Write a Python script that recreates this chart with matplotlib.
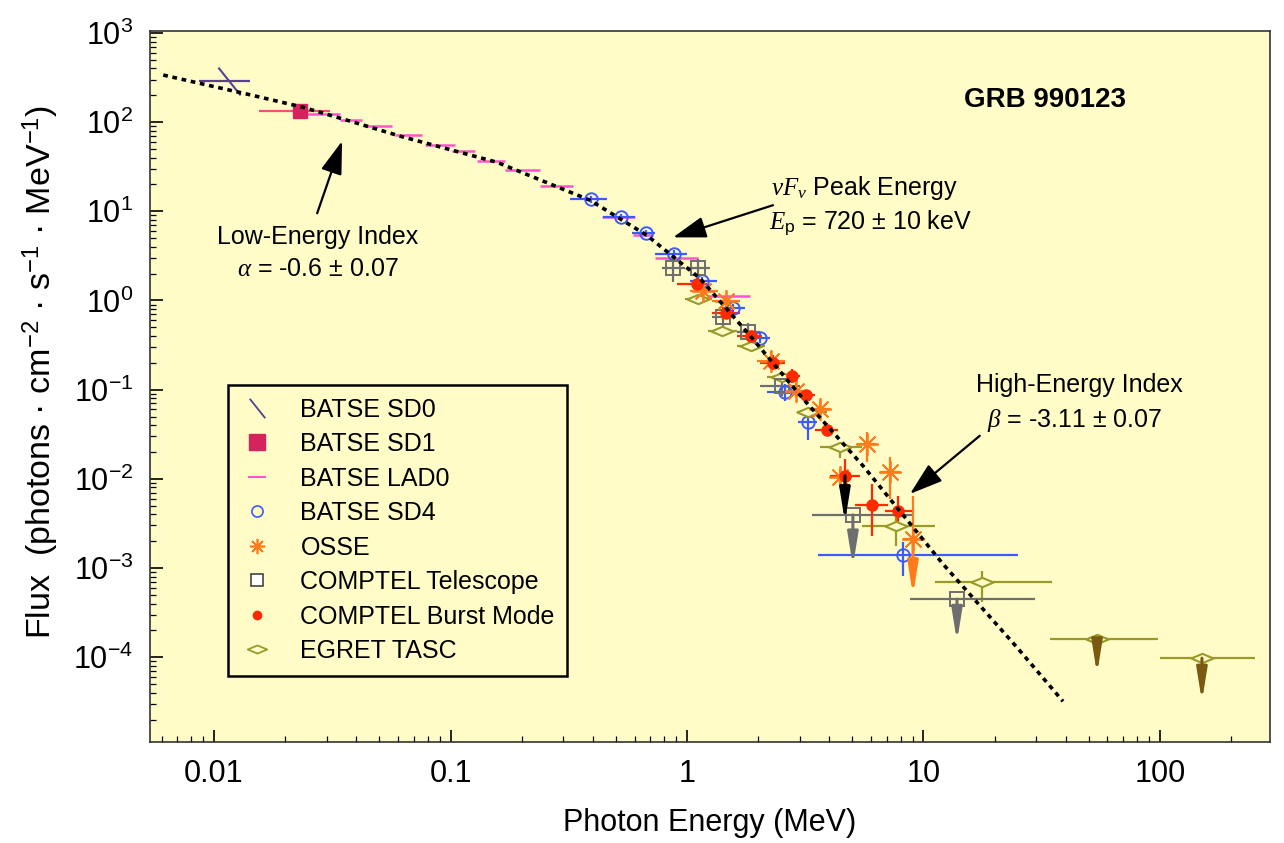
import numpy as np
import matplotlib.pyplot as plt
from matplotlib.lines import Line2D
from matplotlib.path import Path
from matplotlib.ticker import NullFormatter
from matplotlib import font_manager

# --- Fonts ---
names = {f.name for f in font_manager.fontManager.ttflist}
narrow = 'Liberation Sans Narrow' if 'Liberation Sans Narrow' in names else 'Liberation Sans'
plt.rcParams['font.family'] = ['Liberation Sans', 'DejaVu Sans']
plt.rcParams['mathtext.fontset'] = 'custom'
plt.rcParams['mathtext.rm'] = 'Liberation Sans'
plt.rcParams['mathtext.it'] = 'Liberation Serif:italic'
plt.rcParams['mathtext.bf'] = 'Liberation Sans:bold'

# --- Data: energy in MeV, flux in photons cm^-2 s^-1 MeV^-1 ---
# Band model fit (dashed curve)
model_e = [0.0061, 0.0138, 0.0236, 0.0376, 0.0612, 0.157, 0.389, 0.677,
           1.135, 1.846, 3.094, 5.55, 12.09, 24.85, 38.9]
model_f = [337, 206, 147.5, 102.6, 69.6, 35.5, 13.3, 5.37,
           1.77, 0.404, 0.0792, 0.0140, 0.00111, 1.29e-4, 3.2e-5]

# BATSE SD0 (one point + slope segment)
sd0_e, sd0_lo, sd0_hi, sd0_f = [0.0116], [0.0086], [0.0142], [290]

# BATSE SD1
sd1_e, sd1_lo, sd1_hi, sd1_f = [0.0231], [0.0155], [0.0309], [133]

# BATSE LAD0 (energy bins only)
lad_lo = [0.0247, 0.0341, 0.0435, 0.0583, 0.078, 0.1015, 0.1295, 0.170,
          0.239, 0.437, 0.591, 0.732, 1.215]
lad_hi = [0.0341, 0.0422, 0.0566, 0.0758, 0.1045, 0.1269, 0.170, 0.239,
          0.330, 0.603, 0.718, 1.113, 1.846]
lad_f = [123, 105, 90, 71, 55, 47, 36.5, 29, 19.1, 8.6, 5.4, 3.0, 1.11]

# BATSE SD4
sd4_e = [0.393, 0.526, 0.671, 0.881, 1.157, 1.565, 2.035, 2.597, 3.248, 8.19]
sd4_lo = [0.320, 0.441, 0.585, 0.732, 1.03, 1.406, 1.811, 2.18, 2.946, 3.58]
sd4_hi = [0.459, 0.603, 0.732, 1.0, 1.339, 1.759, 2.244, 2.918, 3.545, 25.1]
sd4_f = [13.6, 8.56, 5.66, 3.29, 1.635, 0.813, 0.384, 0.095, 0.0437, 0.0014]
sd4_flo = [12.5, 7.9, 5.2, 2.9, 1.45, 0.72, 0.33, 0.075, 0.027, 0.00081]
sd4_fhi = [14.8, 9.3, 6.1, 3.7, 1.85, 0.92, 0.44, 0.115, 0.056, 0.00196]

# OSSE
osse_e = [1.169, 1.462, 2.266, 2.89, 3.65, 4.44, 5.77, 7.22, 9.03]
osse_lo = [1.03, 1.276, 1.977, 2.622, 3.31, 4.024, 5.235, 6.55, 8.19]
osse_hi = [1.352, 1.675, 2.597, 3.186, 4.024, 4.89, 6.36, 7.96, 9.95]
osse_f = [1.262, 0.974, 0.2117, 0.0975, 0.0612, 0.01053, 0.0247, 0.0120, 0.00212]
osse_flo = [1.1, 0.85, 0.17, 0.08, 0.05, 0.0085, 0.0155, 0.006, 0.00212]
osse_fhi = [1.45, 1.12, 0.27, 0.12, 0.075, 0.013, 0.0337, 0.0177, 0.00644]
osse_ul = [False, False, False, False, False, False, False, False, True]
osse_ul_end = 5.0e-4

# COMPTEL Telescope
tel_e = [0.873, 1.113, 1.42, 1.811, 2.522, 5.03, 13.86]
tel_lo = [0.784, 1.01, 1.276, 1.627, 2.035, 3.378, 8.77]
tel_hi = [0.981, 1.251, 1.596, 2.035, 3.005, 8.94, 29.6]
tel_f = [2.288, 2.288, 0.661, 0.4485, 0.111, 0.00394, 4.48e-4]
tel_flo = [1.6, 1.7, 0.5, 0.35, 0.085, 0.00394, 4.48e-4]
tel_fhi = [3.0, 2.9, 0.85, 0.56, 0.14, 0.00394, 4.48e-4]
tel_ul = [False, False, False, False, False, True, True]
tel_ul_end = [None, None, None, None, None, 0.00105, 1.5e-4]

# COMPTEL Burst Mode
bm_e = [1.102, 1.462, 1.865, 2.310, 2.78, 3.186, 3.908, 4.656, 6.058, 7.80]
bm_lo = [0.907, 1.276, 1.627, 2.035, 2.546, 2.918, 3.477, 4.024, 5.133, 6.874]
bm_hi = [1.215, 1.675, 2.075, 2.597, 3.005, 3.477, 4.35, 5.39, 7.08, 8.94]
bm_f = [1.513, 0.733, 0.4045, 0.201, 0.1437, 0.0879, 0.0355, 0.0108, 0.0051, 0.00437]
bm_flo = [1.35, 0.65, 0.36, 0.165, 0.12, 0.075, 0.03, 0.0046, 0.00229, 0.00296]
bm_fhi = [1.7, 0.82, 0.45, 0.245, 0.17, 0.1, 0.042, 0.0168, 0.00879, 0.00644]
bm_ul_e, bm_ul_f, bm_ul_end = [4.656], [0.0108], [0.0033]

# EGRET TASC
eg_e = [1.113, 1.406, 1.865, 2.522, 3.248, 4.436, 7.65, 17.68, 54.2, 150.5]
eg_lo = [0.981, 1.227, 1.627, 2.18, 2.918, 3.65, 5.495, 11.19, 34.3, 100]
eg_hi = [1.276, 1.627, 2.137, 2.918, 3.908, 5.495, 11.19, 34.94, 98.1, 252]
eg_f = [1.026, 0.46, 0.312, 0.140, 0.0566, 0.0229, 0.00296, 6.96e-4, 1.59e-4, 9.75e-5]
eg_flo = [1.026, 0.46, 0.312, 0.140, 0.0566, 0.017, 0.00177, 4.15e-4, 1.59e-4, 9.75e-5]
eg_fhi = [1.026, 0.46, 0.312, 0.140, 0.0566, 0.0229, 0.00404, 9.25e-4, 1.59e-4, 9.75e-5]
eg_ul = [False] * 8 + [True, True]
eg_ul_end = [None] * 8 + [6.5e-5, 3.2e-5]

xticks = [0.01, 0.1, 1, 10, 100]
xticklabels = ['0.01', '0.1', '1', '10', '100']

# --- Colours ---
c_sd0 = '#5B3F8F'
c_sd1 = '#D6235F'
c_sd1_bar = '#F0507A'
c_lad = '#FF55CC'
c_sd4 = '#3A5BFF'
c_osse = '#FF7A1A'
c_tel = '#6E6E6E'
c_bm = '#FF2A00'
c_eg = '#9A9A2A'
c_eg_ul = '#7A5A10'
bg = '#FFFCC8'

slash = Path([(-0.8, 1.0), (0.8, -1.0)], [Path.MOVETO, Path.LINETO])
diamond = Path([(-1, 0), (0, 0.42), (1, 0), (0, -0.42), (-1, 0)],
               [Path.MOVETO, Path.LINETO, Path.LINETO, Path.LINETO, Path.CLOSEPOLY])
aster = (8, 2, 0)


def xerr(e, lo, hi):
    e = np.array(e)
    return [e - np.array(lo), np.array(hi) - e]


def yerr(f, flo, fhi):
    f = np.array(f)
    return [f - np.array(flo), np.array(fhi) - f]


def ul_arrow(ax, x, y0, y1, color):
    ax.annotate('', xy=(x, y1), xytext=(x, y0),
                arrowprops=dict(arrowstyle='-|>,head_length=1.6,head_width=0.26',
                                color=color, lw=2.2, shrinkA=0, shrinkB=0,
                                mutation_scale=12))


fig = plt.figure(figsize=(12.84, 8.43), dpi=100)
ax = fig.add_axes([0.1168, 0.1198, 0.8723, 0.8434])
ax.set_facecolor(bg)
ax.set_xscale('log')
ax.set_yscale('log')
ax.set_xlim(0.00536, 292)
ax.set_ylim(1.12e-5, 1.05e3)

eb = dict(ls='none', elinewidth=1.6, capsize=0)

# BATSE SD0
ax.errorbar(sd0_e, sd0_f, xerr=xerr(sd0_e, sd0_lo, sd0_hi), color=c_sd0,
            marker=slash, ms=20, mew=1.5, **eb)
# BATSE LAD0
ax.hlines(lad_f, lad_lo, lad_hi, color=c_lad, lw=1.8, zorder=2)
# BATSE SD1
ax.errorbar(sd1_e, sd1_f, xerr=xerr(sd1_e, sd1_lo, sd1_hi), ecolor=c_sd1_bar,
            marker='s', ms=10, mfc=c_sd1, mec=c_sd1, **eb)
# BATSE SD4
ax.errorbar(sd4_e, sd4_f, xerr=xerr(sd4_e, sd4_lo, sd4_hi),
            yerr=yerr(sd4_f, sd4_flo, sd4_fhi), color=c_sd4,
            marker='o', ms=9, mfc='none', mew=1.4, **eb)
# EGRET TASC
ax.errorbar(eg_e, eg_f, xerr=xerr(eg_e, eg_lo, eg_hi),
            yerr=yerr(eg_f, eg_flo, eg_fhi), color=c_eg,
            marker=diamond, ms=16, mfc=bg, mew=1.5, **eb)
for x, y, y1, ul in zip(eg_e, eg_f, eg_ul_end, eg_ul):
    if ul:
        ul_arrow(ax, x, y, y1, c_eg_ul)
# COMPTEL Telescope
ax.errorbar(tel_e, tel_f, xerr=xerr(tel_e, tel_lo, tel_hi),
            yerr=yerr(tel_f, tel_flo, tel_fhi), color=c_tel,
            marker='s', ms=10, mfc='none', mew=1.4, **eb)
for x, y, y1, ul in zip(tel_e, tel_f, tel_ul_end, tel_ul):
    if ul:
        ul_arrow(ax, x, y, y1, c_tel)
# OSSE
ax.errorbar(osse_e, osse_f, xerr=xerr(osse_e, osse_lo, osse_hi),
            yerr=yerr(osse_f, osse_flo, osse_fhi), color=c_osse,
            marker=aster, ms=16, mew=1.3, **eb)
for x, y, ul in zip(osse_e, osse_f, osse_ul):
    if ul:
        ul_arrow(ax, x, y, osse_ul_end, c_osse)
# COMPTEL Burst Mode
ax.errorbar(bm_e, bm_f, xerr=xerr(bm_e, bm_lo, bm_hi),
            yerr=yerr(bm_f, bm_flo, bm_fhi), color=c_bm,
            marker='o', ms=8, **eb)
for x, y, y1 in zip(bm_ul_e, bm_ul_f, bm_ul_end):
    ul_arrow(ax, x, y, y1, 'black')

# Band model fit
ax.plot(model_e, model_f, color='black', lw=2.6, ls=(0, (1.3, 1.3)), zorder=6)

# --- Axes styling ---
ax.set_xticks(xticks)
ax.set_xticklabels(xticklabels, family=narrow, fontsize=22)
ax.xaxis.set_minor_formatter(NullFormatter())
ax.yaxis.set_minor_formatter(NullFormatter())
ax.tick_params(axis='y', labelsize=22)
ax.tick_params(which='major', direction='in', length=9, width=1.2, pad=12)
ax.tick_params(which='minor', direction='in', length=4.5, width=0.9)
for s in ax.spines.values():
    s.set_linewidth(1.2)
    s.set_color('#333333')

ax.set_xlabel('Photon Energy (MeV)', family=narrow, fontsize=22, labelpad=14)
ax.set_ylabel('Flux  (photons · cm$^{-2}$ · s$^{-1}$ · MeV$^{-1}$)', fontsize=24.5)
ax.yaxis.set_label_coords(-0.079, 0.52)

# --- Annotations ---
ax.text(0.799, 0.903, 'GRB 990123', transform=ax.transAxes, fontsize=20,
        fontweight='bold', ha='center', va='center')
ax.text(0.150, 0.710, 'Low-Energy Index', transform=ax.transAxes,
        fontsize=18, ha='center', va='center')
ax.text(0.150, 0.665, r'$\alpha$ = -0.6 ± 0.07', transform=ax.transAxes,
        fontsize=18, ha='center', va='center')
ax.text(0.638, 0.779, r'$\nu F_\nu$ Peak Energy', transform=ax.transAxes,
        fontsize=18, ha='center', va='center')
ax.text(0.643, 0.729, r'$E_{\rm p}$ = 720 ± 10 keV', transform=ax.transAxes,
        fontsize=18, ha='center', va='center')
ax.text(0.830, 0.502, 'High-Energy Index', transform=ax.transAxes,
        fontsize=18, ha='center', va='center')
ax.text(0.826, 0.452, r'$\beta$ = -3.11 ± 0.07', transform=ax.transAxes,
        fontsize=18, ha='center', va='center')

big_arrow = dict(arrowstyle='-|>,head_length=1.7,head_width=0.55', color='black',
                 lw=1.6, shrinkA=0, shrinkB=0, mutation_scale=12)
ax.annotate('', xy=(0.0348, 61.2), xytext=(0.0273, 9.5), arrowprops=big_arrow, zorder=7)
ax.annotate('', xy=(0.873, 5.1), xytext=(2.31, 11.7), arrowprops=big_arrow, zorder=7)
ax.annotate('', xy=(8.77, 0.00678), xytext=(17.3, 0.0304), arrowprops=big_arrow, zorder=7)

# --- Legend ---
handles = [
    Line2D([], [], ls='none', marker=slash, ms=14, mew=1.3, color=c_sd0),
    Line2D([], [], ls='none', marker='s', ms=11, color=c_sd1),
    Line2D([], [], ls='none', marker='_', ms=13, mew=1.5, color=c_lad),
    Line2D([], [], ls='none', marker='o', ms=8, mfc='none', mew=1.2, color=c_sd4),
    Line2D([], [], ls='none', marker=aster, ms=11, mew=1.2, color=c_osse),
    Line2D([], [], ls='none', marker='s', ms=8, mfc='white', mew=1.2, color='#444444'),
    Line2D([], [], ls='none', marker='o', ms=6, color=c_bm),
    Line2D([], [], ls='none', marker=diamond, ms=14, mfc='none', mew=1.3, color=c_eg),
]
labels = ['BATSE SD0', 'BATSE SD1', 'BATSE LAD0', 'BATSE SD4', 'OSSE',
          'COMPTEL Telescope', 'COMPTEL Burst Mode', 'EGRET TASC']
leg = ax.legend(handles, labels, loc='upper left', bbox_to_anchor=(0.0696, 0.502),
                borderaxespad=0, fontsize=18, labelspacing=0.42, handlelength=1.3,
                handletextpad=1.1, borderpad=0.5, fancybox=False, framealpha=1,
                facecolor=bg, edgecolor='black')
leg.get_frame().set_linewidth(1.8)

fig.savefig('out.png', dpi=100, facecolor='white')
